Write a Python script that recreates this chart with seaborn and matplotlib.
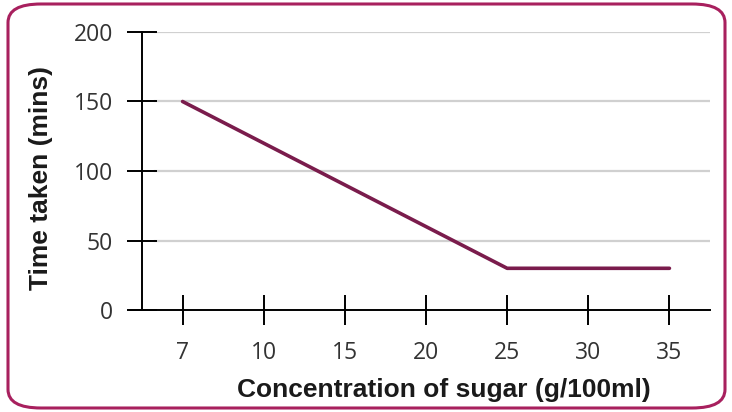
import matplotlib
matplotlib.use("Agg")
import matplotlib.pyplot as plt
import pandas as pd
import seaborn as sns
from matplotlib.patches import FancyBboxPatch

# data
concentration = ["7", "10", "15", "20", "25", "30", "35"]
time_taken = [150, 120, 90, 60, 30, 30, 30]
y_ticks = [0, 50, 100, 150, 200]

LINE = "#7a1c4c"
BORDER = "#a8205e"

sns.set_theme(style="white")
plt.rcParams["font.family"] = ["Open Sans", "DejaVu Sans"]

df = pd.DataFrame({"conc": concentration, "time": time_taken})

fig = plt.figure(figsize=(7.32, 4.12), dpi=100)
ax = fig.add_axes([142 / 732, 1 - 310 / 412, (710 - 142) / 732, (310 - 32) / 412])

sns.lineplot(data=df, x="conc", y="time", ax=ax, color=LINE, linewidth=2.6,
             sort=False)

ax.set_xlim(-0.5, 6.5)
ax.set_ylim(0, 200)
ax.set_yticks(y_ticks)
for y in y_ticks[1:]:
    ax.axhline(y, xmin=0.022, xmax=1.0, color="#d0d0d0", linewidth=1.6, zorder=0)

for s in ["top", "right"]:
    ax.spines[s].set_visible(False)
ax.spines["left"].set_color("black")
ax.spines["bottom"].set_color("black")
ax.spines["left"].set_linewidth(1.4)
ax.spines["bottom"].set_linewidth(1.4)
ax.spines["bottom"].set_bounds(-0.65, 6.5)

ax.tick_params(axis="both", bottom=True, left=True, direction="inout",
               length=22, width=1.4, color="black", labelsize=16.5,
               labelcolor="#333333")
ax.tick_params(axis="x", pad=11)
ax.tick_params(axis="y", pad=10)

lab_font = dict(family=["Liberation Sans", "DejaVu Sans"], fontweight="bold",
                fontsize=19, color="#1a1a1a")
ax.set_xlabel("Concentration of sugar (g/100ml)", **lab_font)
ax.set_ylabel("Time taken (mins)", **lab_font)
ax.xaxis.set_label_coords(0.532, -0.245)
ax.yaxis.set_label_coords(-0.157, 0.475)

border = FancyBboxPatch((8 / 732, 4 / 412), (725 - 8) / 732, (408 - 4) / 412,
                        boxstyle="round,pad=0,rounding_size=0.045",
                        transform=fig.transFigure, fill=False,
                        edgecolor=BORDER, linewidth=2.2)
fig.patches.append(border)

fig.savefig("out.png", dpi=100)
